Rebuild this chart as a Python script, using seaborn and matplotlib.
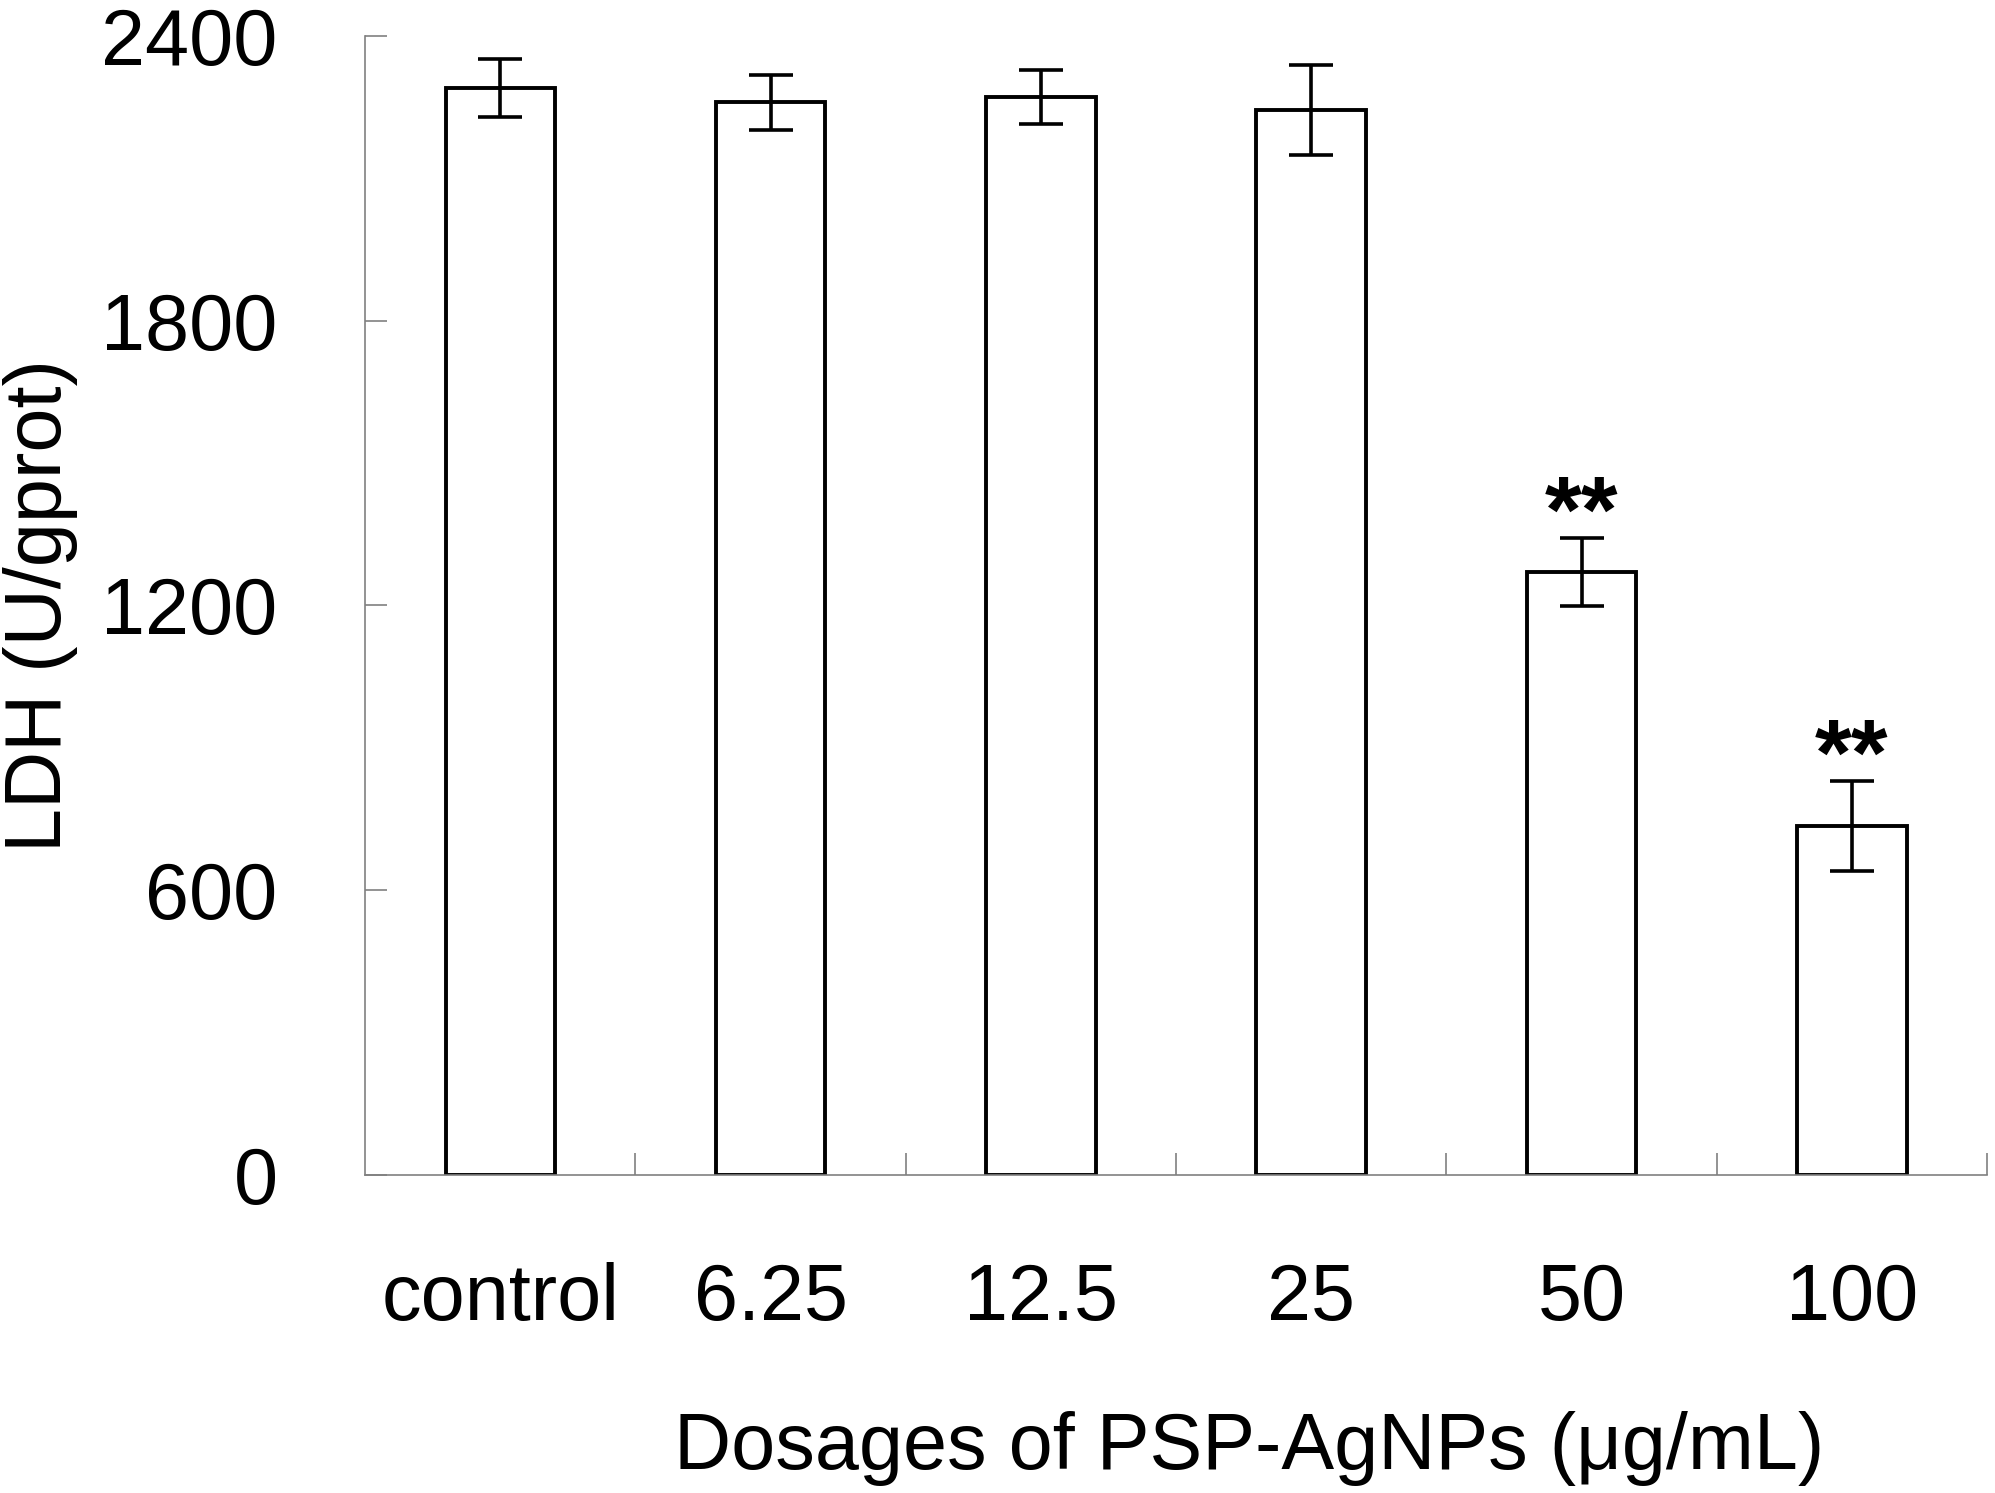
import numpy as np
import pandas as pd
import seaborn as sns
import matplotlib
matplotlib.use("Agg")
import matplotlib.pyplot as plt

# values
groups = ["control", "6.25", "12.5", "25", "50", "100"]
ldh = [2290, 2260, 2271, 2244, 1270, 735]
ldh_err = [62, 58, 56, 95, 72, 95]
signif = ["", "", "", "", "**", "**"]
yticks = [0, 600, 1200, 1800, 2400]

sns.set_style("white")
plt.rcParams['font.family'] = ['Liberation Sans', 'DejaVu Sans']
plt.rcParams['text.color'] = 'black'
plt.rcParams['axes.labelcolor'] = 'black'
plt.rcParams['xtick.labelcolor'] = 'black'
plt.rcParams['ytick.labelcolor'] = 'black'

df = pd.DataFrame({'dose': groups, 'ldh': ldh, 'err': ldh_err})

fig = plt.figure(figsize=(19.95, 14.93), dpi=100)
ax = fig.add_axes([0.183, 0.213, 0.813, 0.763])

sns.barplot(data=df, x='dose', y='ldh', order=groups, color='white',
            edgecolor='black', linewidth=2.8, width=0.405, errorbar=None, ax=ax)
ax.errorbar(np.arange(len(groups)), df['ldh'], yerr=df['err'], fmt='none',
            ecolor='black', elinewidth=2.6, capsize=16, capthick=2.6, zorder=5)

for i, s in enumerate(signif):
    if s:
        ax.annotate(s, (i, ldh[i] + ldh_err[i]), xytext=(0, 15),
                    textcoords='offset points', ha='center', va='center',
                    fontsize=68, fontweight='bold')

ax.set_xlim(-0.5, len(groups) - 0.5)
ax.set_ylim(0, 2400)
ax.set_yticks(yticks)
ax.set_yticklabels([str(t) for t in yticks])
ax.set_xticks(np.arange(len(groups)) + 0.5, minor=True)

for side in ['top', 'right']:
    ax.spines[side].set_visible(False)
for side in ['left', 'bottom']:
    ax.spines[side].set_color('#808080')
    ax.spines[side].set_linewidth(1.2)

ax.tick_params(axis='y', direction='in', length=16, width=1.2, color='#808080',
               labelsize=57, pad=63, left=True)
ax.tick_params(axis='x', which='major', length=0, labelsize=57, pad=63)
ax.tick_params(axis='x', which='minor', direction='in', length=16, width=1.2,
               color='#808080', bottom=True)

ax.set_xlabel('Dosages of PSP-AgNPs (μg/mL)', fontsize=57)
ax.set_ylabel('LDH (U/gprot)', fontsize=57)
ax.xaxis.set_label_coords(0.545, -0.207)
ax.yaxis.set_label_coords(-0.177, 0.5)

fig.savefig('out.png', dpi=100, facecolor='white')
